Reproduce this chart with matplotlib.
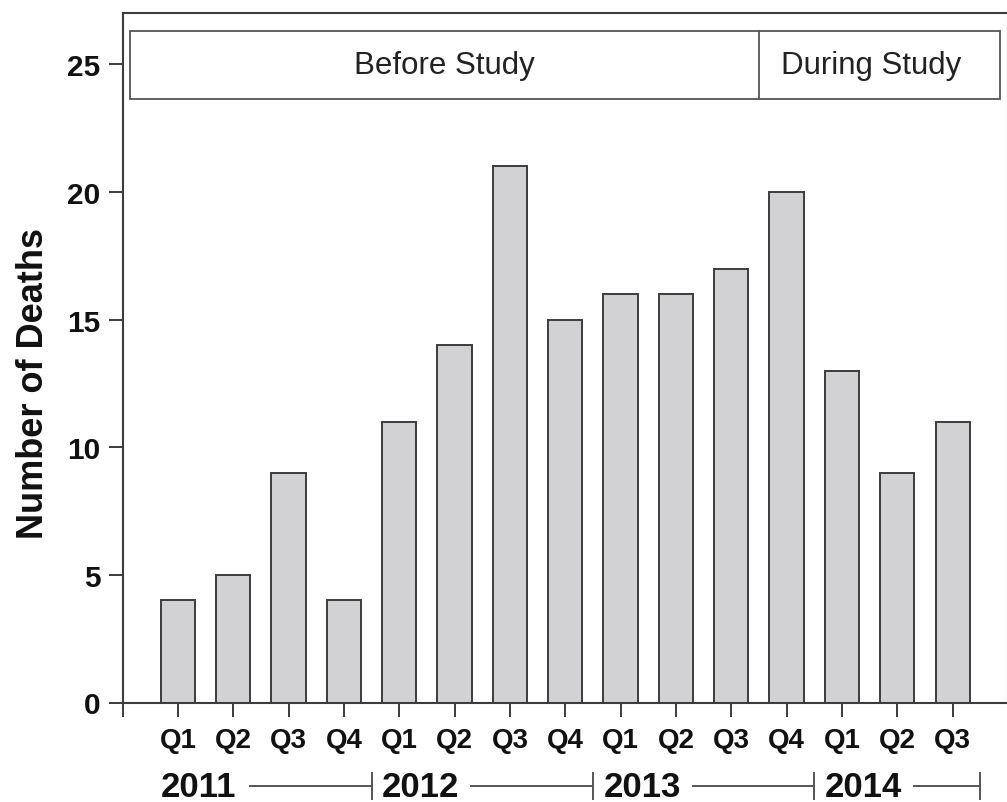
import matplotlib
matplotlib.use("Agg")
import matplotlib.pyplot as plt
from matplotlib.patches import Rectangle

quarters = ["Q1", "Q2", "Q3", "Q4", "Q1", "Q2", "Q3", "Q4",
            "Q1", "Q2", "Q3", "Q4", "Q1", "Q2", "Q3"]
deaths = [4, 5, 9, 4, 11, 14, 21, 15, 16, 16, 17, 20, 13, 9, 11]
years = ["2011", "2012", "2013", "2014"]
year_start_idx = [0, 4, 8, 12]
year_end_idx = [3, 7, 11, 14]
periods = ["Before Study", "During Study"]
period_split = 10.5
yticks = [0, 5, 10, 15, 20, 25]

plt.rcParams['font.family'] = ['Liberation Sans', 'DejaVu Sans']

fig = plt.figure(figsize=(10.07, 8.03), dpi=100)
ax = fig.add_axes([122.6 / 1007, 99.5 / 803, (1008 - 122.6) / 1007, 689.2 / 803])

edge = "#3c3c3c"
x = list(range(len(deaths)))
ax.bar(x, deaths, width=0.62, color="#d2d2d4", edgecolor=edge, linewidth=1.4, zorder=2)

ax.set_xlim(-1, 15)
ax.set_ylim(0, 27)

ax.set_yticks(yticks)
ax.set_yticklabels([str(v) for v in yticks], fontsize=21.5, fontweight='bold', color="#111111")
ax.set_xticks([-1] + x + [15])
ax.set_xticklabels([""] + quarters + [""], fontsize=20, fontweight='bold', color="#111111")
ax.tick_params(axis='y', length=10, width=1.4, pad=6, color=edge)
ax.tick_params(axis='x', length=10, width=1.4, pad=8, color=edge)
for s in ax.spines.values():
    s.set_color(edge)
    s.set_linewidth(1.5)

ax.set_ylabel("Number of Deaths", fontsize=26, fontweight='bold', color="#111111")
ax.yaxis.set_label_coords(-0.081, 0.464)

# Period box
box_left, box_right = -0.866, 14.85
box_bottom, box_top = 23.66, 26.32
ax.add_patch(Rectangle((box_left, box_bottom), box_right - box_left, box_top - box_bottom,
                       fill=False, edgecolor="#555555", linewidth=1.3, zorder=3))
ax.plot([period_split, period_split], [box_bottom, box_top], color="#555555", linewidth=1.3, zorder=3)
ymid = (box_bottom + box_top) / 2
ax.text((box_left + period_split) / 2, ymid, periods[0], ha='center', va='center',
        fontsize=22.5, color="#222222")
ax.text((period_split + box_right) / 2 - 0.15, ymid, periods[1], ha='center', va='center',
        fontsize=22.5, color="#222222")

# Year labels with brackets
yy = -0.1215
tr = ax.get_xaxis_transform()
for yr, si, ei in zip(years, year_start_idx, year_end_idx):
    ax.text(si - 0.31, yy, yr, transform=tr, ha='left', va='center',
            fontsize=25, fontweight='bold', color="#111111", clip_on=False)
    end = ei + 0.5
    ax.plot([si + 1.3, end], [yy, yy], transform=tr, color="#555555", linewidth=1.4, clip_on=False)
    ax.plot([end, end], [yy - 0.019, yy + 0.019], transform=tr, color="#555555",
            linewidth=1.4, clip_on=False)

fig.savefig("out.png", dpi=100)
